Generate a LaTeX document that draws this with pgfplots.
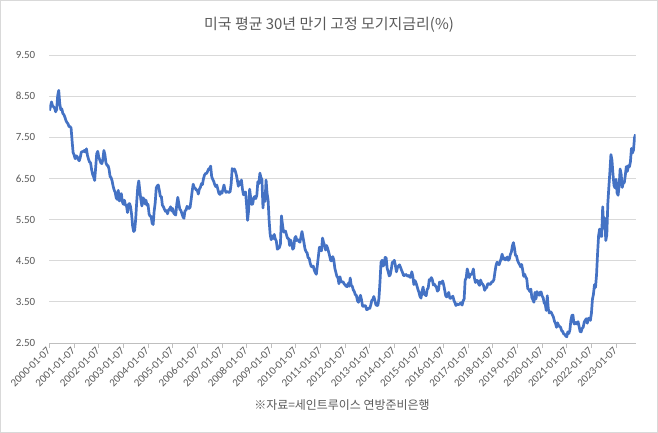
\documentclass[border=0pt]{standalone}
\usepackage{fontspec}
\setmainfont{Carlito}
\newfontfamily\kr{Noto Sans CJK KR}
\usepackage{pgfplots}
\usepackage{pgfplotstable}
\pgfplotsset{compat=1.18}
\definecolor{serie}{HTML}{4472C4}
\definecolor{txt}{HTML}{595959}
\definecolor{gridc}{HTML}{D9D9D9}
\definecolor{axisc}{HTML}{BFBFBF}

% weekly 30y fixed mortgage rate, two readings per month from 2000-01-07
\pgfplotstableread[row sep=\\, header=false]{
8.15\\8.25\\8.36\\8.26\\8.24\\8.21\\8.12\\8.18\\8.52\\8.64\\8.32\\8.17\\8.19\\8.08\\8.05\\7.99\\7.91\\7.86\\7.83\\7.76\\7.76\\7.73\\7.42\\7.13\\
7.07\\6.98\\7.05\\7.03\\6.96\\6.93\\7.01\\7.14\\7.15\\7.16\\7.18\\7.14\\7.22\\7.06\\6.97\\6.90\\6.88\\6.72\\6.60\\6.54\\6.45\\6.77\\7.10\\7.16\\
7.02\\6.95\\6.88\\6.86\\6.96\\7.18\\7.08\\6.88\\6.82\\6.81\\6.73\\6.55\\6.52\\6.44\\6.31\\6.22\\6.16\\6.03\\5.99\\6.21\\5.95\\6.10\\6.13\\5.93\\
5.87\\5.97\\5.85\\5.84\\5.67\\5.87\\5.89\\5.81\\5.62\\5.34\\5.21\\5.24\\5.52\\5.94\\6.29\\6.44\\6.20\\5.99\\5.83\\6.03\\6.00\\5.88\\5.97\\5.85\\
5.87\\5.64\\5.58\\5.58\\5.41\\5.38\\5.71\\5.91\\6.27\\6.32\\6.34\\6.21\\6.06\\6.06\\5.85\\5.81\\5.75\\5.70\\5.72\\5.64\\5.73\\5.76\\5.81\\5.71\\
5.77\\5.66\\5.63\\5.61\\5.87\\6.04\\5.89\\5.75\\5.72\\5.65\\5.57\\5.53\\5.71\\5.73\\5.82\\5.80\\5.77\\5.80\\5.98\\6.19\\6.36\\6.28\\6.26\\6.22\\
6.21\\6.12\\6.24\\6.28\\6.37\\6.35\\6.49\\6.58\\6.62\\6.62\\6.67\\6.73\\6.74\\6.80\\6.55\\6.48\\6.43\\6.35\\6.30\\6.34\\6.24\\6.14\\6.11\\6.18\\
6.14\\6.23\\6.34\\6.22\\6.16\\6.18\\6.17\\6.16\\6.18\\6.37\\6.74\\6.69\\6.73\\6.68\\6.59\\6.46\\6.31\\6.42\\6.35\\6.46\\6.24\\6.10\\6.14\\6.17\\
5.87\\5.48\\5.72\\6.24\\6.03\\5.87\\5.88\\6.03\\6.06\\6.01\\6.09\\6.42\\6.37\\6.63\\6.52\\6.47\\5.78\\6.10\\5.94\\6.46\\6.14\\5.97\\5.47\\5.14\\
5.01\\5.10\\5.04\\5.14\\5.03\\4.98\\4.78\\4.80\\4.82\\4.91\\5.59\\5.38\\5.20\\5.20\\5.22\\5.12\\5.04\\5.04\\4.87\\5.00\\4.91\\4.78\\4.81\\5.05\\
5.09\\4.99\\5.01\\4.97\\4.95\\5.08\\5.21\\5.07\\4.93\\4.78\\4.72\\4.69\\4.57\\4.56\\4.44\\4.36\\4.35\\4.37\\4.27\\4.21\\4.17\\4.39\\4.61\\4.83\\
4.77\\4.74\\5.05\\4.95\\4.87\\4.76\\4.87\\4.80\\4.71\\4.61\\4.50\\4.50\\4.60\\4.52\\4.32\\4.22\\4.12\\4.09\\3.94\\4.11\\4.00\\3.98\\3.99\\3.94\\
3.91\\3.88\\3.87\\3.95\\3.88\\4.08\\3.90\\3.88\\3.79\\3.75\\3.67\\3.66\\3.53\\3.49\\3.59\\3.66\\3.55\\3.40\\3.39\\3.41\\3.40\\3.31\\3.32\\3.35\\
3.34\\3.42\\3.53\\3.56\\3.63\\3.54\\3.43\\3.41\\3.42\\3.59\\3.98\\4.46\\4.51\\4.37\\4.40\\4.58\\4.57\\4.32\\4.23\\4.13\\4.16\\4.29\\4.46\\4.47\\
4.51\\4.39\\4.23\\4.33\\4.37\\4.40\\4.34\\4.27\\4.21\\4.14\\4.14\\4.17\\4.15\\4.12\\4.14\\4.10\\4.10\\4.23\\4.12\\3.92\\4.02\\3.97\\3.89\\3.80\\
3.73\\3.63\\3.59\\3.76\\3.86\\3.69\\3.67\\3.65\\3.80\\3.84\\4.04\\4.02\\4.09\\4.04\\3.91\\3.93\\3.89\\3.85\\3.76\\3.79\\3.98\\3.97\\3.95\\4.01\\
3.92\\3.79\\3.65\\3.62\\3.68\\3.73\\3.59\\3.59\\3.61\\3.64\\3.54\\3.48\\3.41\\3.45\\3.43\\3.44\\3.46\\3.48\\3.42\\3.52\\3.57\\4.03\\4.08\\4.30\\
4.20\\4.09\\4.17\\4.16\\4.21\\4.30\\4.08\\3.97\\4.02\\4.02\\3.94\\3.90\\4.03\\3.96\\3.93\\3.89\\3.78\\3.83\\3.85\\3.94\\3.94\\3.92\\3.94\\3.99\\
3.99\\4.04\\4.22\\4.38\\4.46\\4.45\\4.40\\4.47\\4.55\\4.66\\4.54\\4.57\\4.52\\4.54\\4.59\\4.51\\4.54\\4.65\\4.71\\4.86\\4.94\\4.81\\4.63\\4.62\\
4.51\\4.45\\4.41\\4.35\\4.41\\4.28\\4.12\\4.17\\4.10\\4.06\\3.82\\3.80\\3.75\\3.81\\3.60\\3.55\\3.49\\3.73\\3.57\\3.75\\3.69\\3.66\\3.73\\3.74\\
3.64\\3.60\\3.47\\3.45\\3.29\\3.65\\3.33\\3.23\\3.26\\3.24\\3.18\\3.13\\3.03\\2.98\\2.88\\2.99\\2.93\\2.90\\2.88\\2.80\\2.78\\2.72\\2.71\\2.67\\
2.65\\2.77\\2.73\\2.81\\3.05\\3.17\\3.18\\2.97\\2.96\\3.00\\2.96\\3.02\\2.90\\2.78\\2.77\\2.86\\2.88\\3.01\\3.05\\3.09\\2.98\\3.10\\3.10\\3.05\\
3.22\\3.56\\3.69\\3.92\\3.85\\4.16\\4.67\\5.11\\5.27\\5.10\\5.09\\5.81\\5.30\\5.54\\4.99\\5.13\\5.89\\6.29\\6.66\\7.08\\6.95\\6.61\\6.33\\6.27\\
6.48\\6.15\\6.09\\6.32\\6.73\\6.60\\6.28\\6.39\\6.39\\6.57\\6.79\\6.67\\6.81\\6.78\\6.90\\7.23\\7.12\\7.19\\7.49\\7.57\\
}\rates

\begin{document}
\begin{tikzpicture}
\path[use as bounding box] (-49.5bp,-90bp) rectangle (608.5bp,343bp);
\draw[gridc, line width=1bp] (-49bp,-89.5bp) rectangle (608bp,342.5bp);
\begin{axis}[
  at={(0,0)}, anchor=south west,
  scale only axis, width=586bp, height=288bp,
  xmin=0, xmax=23.79, ymin=2.5, ymax=9.5,
  axis x line*=bottom, axis y line*=left,
  x axis line style={axisc, line width=0.8bp, -},
  y axis line style={draw=none},
  xtick={0,...,23},
  xticklabels={2000-01-07,2001-01-07,2002-01-07,2003-01-07,2004-01-07,2005-01-07,
    2006-01-07,2007-01-07,2008-01-07,2009-01-07,2010-01-07,2011-01-07,2012-01-07,
    2013-01-07,2014-01-07,2015-01-07,2016-01-07,2017-01-07,2018-01-07,2019-01-07,
    2020-01-07,2021-01-07,2022-01-07,2023-01-07},
  ytick={2.5,3.5,...,9.5},
  ymajorgrids, grid style={gridc, line width=0.8bp},
  tick align=outside, major tick length=5bp,
  xtick style={axisc, line width=0.8bp},
  ytick style={draw=none},
  ticklabel style={font=\fontsize{11}{13}\selectfont, text=txt},
  yticklabel style={/pgf/number format/fixed, /pgf/number format/fixed zerofill,
    /pgf/number format/precision=2, /pgf/number format/assume math mode=true,
    anchor=east, inner sep=0pt, xshift=-9bp},
  xticklabel style={rotate=45, anchor=east, inner sep=1bp},
]
\addplot[serie, line width=2.7bp, line join=round] table[x expr=\coordindex/24, y index=0] {\rates};
\end{axis}
\node[font=\kr\fontsize{15}{18}\selectfont, text=txt] at (279.5bp,318bp) {미국 평균 30년 만기 고정 모기지금리(\%)};
\node[font=\kr\fontsize{12}{14}\selectfont, text=txt] at (292.5bp,-62bp) {※자료=세인트루이스 연방준비은행};
\end{tikzpicture}
\end{document}
